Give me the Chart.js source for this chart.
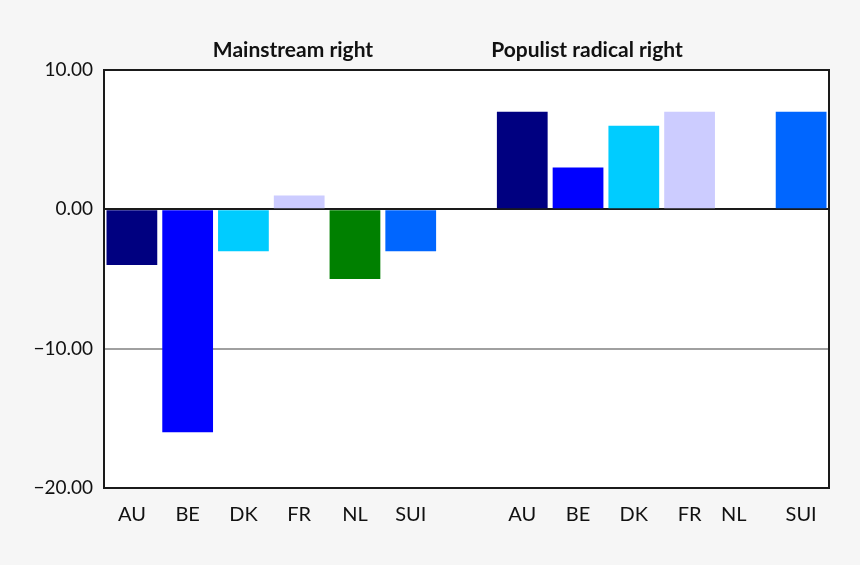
<!DOCTYPE html>
<html>
<head>
<meta charset="utf-8">
<script src="https://cdn.jsdelivr.net/npm/chart.js@4"></script>
<style>
  html, body { margin: 0; padding: 0; background: #f6f6f6; }
  #wrap { width: 860px; height: 565px; }
</style>
</head>
<body>
<div id="wrap"><canvas id="chart"></canvas></div>
<script>
// data
const countries = ["AU", "BE", "DK", "FR", "NL", "SUI", "", "AU", "BE", "DK", "FR", "NL", "SUI"];
const changes = [-4, -16, -3, 1, -5, -3, null, 7, 3, 6, 7, null, 7];
const barColors = ["#000080", "#0000ff", "#00ccff", "#ccccff", "#008000", "#0066ff", "#ffffff",
                   "#000080", "#0000ff", "#00ccff", "#ccccff", "#008000", "#0066ff"];
const groupTitles = ["Mainstream right", "Populist radical right"];
const yTicks = [10, 0, -10, -20];

const textColor = "#111111";

// white plot area, frame and group titles
const framePlugin = {
  id: "frame",
  beforeDraw(chart) {
    const { ctx, chartArea: a } = chart;
    ctx.save();
    ctx.fillStyle = "#ffffff";
    ctx.fillRect(a.left, a.top, a.right - a.left, a.bottom - a.top);
    ctx.restore();
  },
  afterDraw(chart) {
    const { ctx, chartArea: a } = chart;
    ctx.save();
    ctx.strokeStyle = "#1a1a1a";
    ctx.lineWidth = 2;
    ctx.strokeRect(a.left, a.top, a.right - a.left, a.bottom - a.top);
    ctx.fillStyle = textColor;
    ctx.font = "bold 21px Lato";
    ctx.textAlign = "center";
    ctx.textBaseline = "middle";
    ctx.fillText(groupTitles[0], 293, 50);
    ctx.fillText(groupTitles[1], 587, 50);
    ctx.restore();
  }
};

new Chart(document.getElementById("chart"), {
  type: "bar",
  data: {
    labels: countries,
    datasets: [{
      data: changes,
      backgroundColor: barColors,
      borderWidth: 0,
      barPercentage: 0.91,
      categoryPercentage: 1.0
    }]
  },
  options: {
    responsive: true,
    maintainAspectRatio: false,
    animation: false,
    events: [],
    layout: { padding: { top: 70, right: 31, left: 0, bottom: 0 } },
    plugins: { legend: { display: false }, tooltip: { enabled: false } },
    scales: {
      x: {
        grid: { display: false },
        border: { display: false },
        ticks: {
          color: textColor,
          font: { family: "Lato", size: 20 },
          padding: 7,
          autoSkip: false,
          maxRotation: 0,
          callback: function (v, i) {
            // the second NL label sits a bit left in the original
            return i === 11 ? countries[i] + "\u2007\u2007" : countries[i];
          }
        },
        afterFit: (s) => { s.height = 77; }
      },
      y: {
        min: -20,
        max: 10,
        afterBuildTicks: (s) => { s.ticks = yTicks.map((v) => ({ value: v })); },
        grid: {
          drawTicks: false,
          lineWidth: 2,
          color: (c) => c.tick.value === 0 ? "#1a1a1a" : (c.tick.value === -10 ? "#a0a0a0" : "rgba(0,0,0,0)")
        },
        border: { display: false },
        ticks: {
          color: textColor,
          font: { family: "Lato", size: 19 },
          padding: 11,
          callback: (v) => (v < 0 ? "\u2212" + Math.abs(v).toFixed(2) : v.toFixed(2))
        },
        afterFit: (s) => { s.width = 104; }
      }
    }
  },
  plugins: [framePlugin]
});
</script>
</body>
</html>
